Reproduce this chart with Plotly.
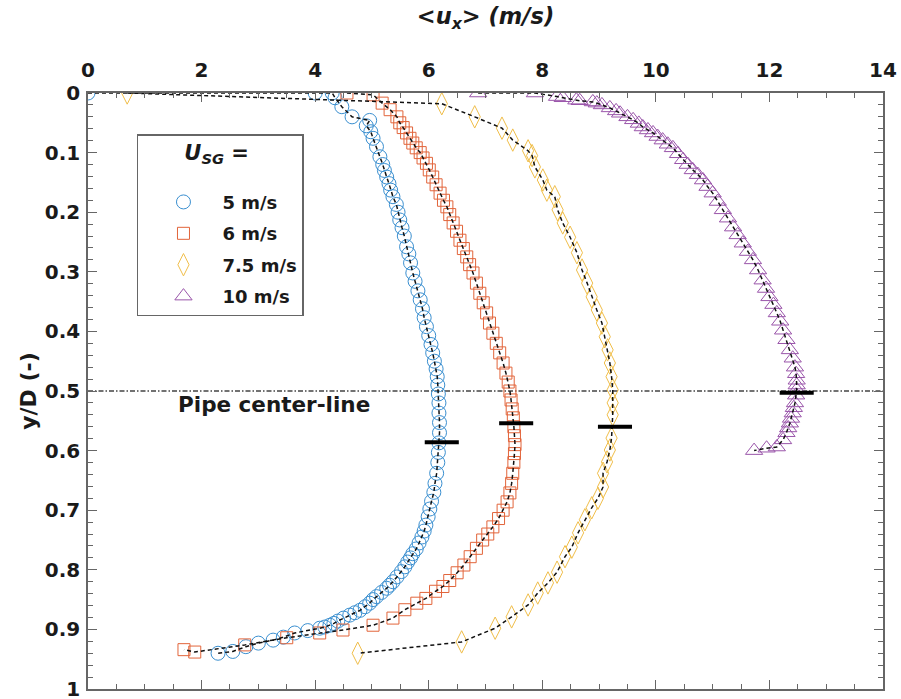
import plotly.graph_objects as go

# Time-averaged axial velocity profiles <u_x> across the pipe (y/D) for several U_SG
LABELS = ["5 m/s", "6 m/s", "7.5 m/s", "10 m/s"]

ux_5 = [0.0, 4.0, 4.3, 4.35, 4.47, 4.65, 4.96, 4.9, 4.98, 5.02, 5.08, 5.14, 5.19, 5.22, 5.26, 5.30,
        5.33, 5.37, 5.43, 5.46, 5.49, 5.53, 5.57, 5.61, 5.65, 5.68, 5.72, 5.76, 5.81, 5.85, 5.89,
        5.92, 5.96, 6.0, 6.04, 6.07, 6.1, 6.13, 6.15, 6.16, 6.17, 6.18, 6.18, 6.19, 6.19, 6.18,
        6.17, 6.16, 6.14, 6.11, 6.09, 6.05, 6.02, 5.99, 5.95, 5.92, 5.88, 5.83, 5.78, 5.72, 5.68,
        5.63, 5.58, 5.52, 5.44, 5.37, 5.31, 5.26, 5.17, 5.08, 5.02, 4.96, 4.88, 4.79, 4.7, 4.61,
        4.5, 4.4, 4.33, 4.26, 4.17, 4.08, 3.87, 3.64, 3.44, 3.26, 3.0, 2.78, 2.55, 2.29]
yD_5 = [0.0, 0.0, 0.0, 0.008, 0.023, 0.04, 0.046, 0.055, 0.065, 0.076, 0.09, 0.107, 0.12, 0.13,
        0.141, 0.152, 0.163, 0.174, 0.187, 0.2, 0.213, 0.226, 0.24, 0.258, 0.27, 0.285, 0.302,
        0.316, 0.332, 0.347, 0.362, 0.377, 0.392, 0.407, 0.422, 0.436, 0.45, 0.463, 0.476, 0.49,
        0.505, 0.52, 0.537, 0.553, 0.57, 0.587, 0.603, 0.62, 0.638, 0.655, 0.67, 0.685, 0.698,
        0.711, 0.725, 0.735, 0.745, 0.755, 0.765, 0.773, 0.78, 0.787, 0.795, 0.803, 0.812, 0.82,
        0.826, 0.831, 0.838, 0.845, 0.85, 0.856, 0.862, 0.868, 0.872, 0.876, 0.881, 0.886, 0.89,
        0.893, 0.896, 0.898, 0.902, 0.906, 0.913, 0.918, 0.923, 0.929, 0.937, 0.94]

ux_6 = [4.56, 5.02, 5.18, 5.32, 5.44, 5.49, 5.55, 5.61, 5.67, 5.72, 5.78, 5.85, 5.9, 5.96, 6.01,
        6.07, 6.13, 6.2, 6.26, 6.32, 6.37, 6.43, 6.49, 6.55, 6.61, 6.67, 6.72, 6.78, 6.84, 6.9,
        6.96, 7.02, 7.07, 7.13, 7.19, 7.25, 7.31, 7.36, 7.4, 7.43, 7.45, 7.47, 7.49, 7.5, 7.51,
        7.52, 7.51, 7.5, 7.48, 7.46, 7.43, 7.38, 7.31, 7.23, 7.13, 7.04, 6.95, 6.84, 6.73, 6.62,
        6.5, 6.37, 6.25, 6.12, 5.95, 5.79, 5.58, 5.37, 5.02, 4.49, 4.08, 3.5, 2.76, 1.88, 1.69]
yD_6 = [0.0, 0.003, 0.017, 0.028, 0.04, 0.05, 0.058, 0.067, 0.076, 0.084, 0.092, 0.1, 0.109,
        0.118, 0.129, 0.141, 0.154, 0.168, 0.18, 0.191, 0.204, 0.218, 0.232, 0.247, 0.261, 0.275,
        0.288, 0.302, 0.319, 0.336, 0.352, 0.369, 0.386, 0.403, 0.42, 0.436, 0.453, 0.47, 0.485,
        0.5, 0.515, 0.53, 0.545, 0.56, 0.575, 0.59, 0.605, 0.62, 0.638, 0.655, 0.671, 0.686, 0.7,
        0.714, 0.728, 0.74, 0.75, 0.764, 0.778, 0.792, 0.805, 0.818, 0.828, 0.836, 0.848, 0.856,
        0.867, 0.881, 0.893, 0.901, 0.906, 0.914, 0.926, 0.938, 0.934]

ux_75 = [0.69, 6.23, 6.81, 7.29, 7.48, 7.75, 7.82, 7.87, 8.01, 8.08, 8.22, 8.27, 8.36, 8.49, 8.61,
         8.7, 8.79, 8.87, 8.96, 9.05, 9.1, 9.15, 9.19, 9.22, 9.24, 9.24, 9.24, 9.22, 9.19, 9.14,
         9.07, 9.07, 8.98, 8.87, 8.75, 8.63, 8.52, 8.4, 8.26, 8.1, 7.92, 7.75, 7.46, 7.17, 6.58, 4.75]
yD_75 = [0.0, 0.018, 0.04, 0.059, 0.079, 0.097, 0.105, 0.124, 0.146, 0.163, 0.174, 0.196, 0.218,
         0.242, 0.268, 0.297, 0.319, 0.342, 0.364, 0.386, 0.409, 0.431, 0.453, 0.476, 0.498, 0.52,
         0.54, 0.579, 0.599, 0.619, 0.638, 0.661, 0.68, 0.696, 0.716, 0.738, 0.762, 0.778, 0.804,
         0.822, 0.839, 0.859, 0.879, 0.898, 0.921, 0.94]

ux_10 = [6.87, 7.87, 8.26, 8.36, 8.6, 8.66, 8.89, 8.96, 9.05, 9.19, 9.3, 9.37, 9.5, 9.6, 9.7, 9.77,
         9.86, 9.95, 10.03, 10.12, 10.21, 10.3, 10.39, 10.48, 10.56, 10.65, 10.74, 10.83, 10.91,
         11.0, 11.09, 11.18, 11.27, 11.36, 11.44, 11.53, 11.62, 11.71, 11.8, 11.88, 11.94, 12.0,
         12.07, 12.13, 12.19, 12.24, 12.3, 12.36, 12.41, 12.45, 12.47, 12.48, 12.48, 12.48, 12.47,
         12.45, 12.43, 12.41, 12.38, 12.36, 12.33, 12.3, 12.24, 12.13, 11.95, 11.73]
yD_10 = [0.0, 0.0, 0.006, 0.008, 0.012, 0.013, 0.015, 0.017, 0.02, 0.025, 0.03, 0.034, 0.04, 0.045,
         0.051, 0.057, 0.062, 0.067, 0.073, 0.079, 0.086, 0.092, 0.102, 0.112, 0.12, 0.129, 0.137,
         0.146, 0.157, 0.168, 0.182, 0.196, 0.21, 0.225, 0.238, 0.252, 0.266, 0.28, 0.297, 0.314,
         0.328, 0.342, 0.355, 0.369, 0.383, 0.398, 0.414, 0.431, 0.445, 0.46, 0.471, 0.482, 0.49,
         0.498, 0.507, 0.52, 0.528, 0.537, 0.546, 0.554, 0.562, 0.57, 0.582, 0.594, 0.596, 0.6]

# Location of the velocity maximum of each profile
peak_ux = [6.23, 7.54, 9.28, 12.48]
peak_yD = [0.586, 0.554, 0.56, 0.503]

CENTERLINE_Y = 0.5
X_TICKS = [0, 2, 4, 6, 8, 10, 12, 14]
Y_TICKS = [0, 0.1, 0.2, 0.3, 0.4, 0.5, 0.6, 0.7, 0.8, 0.9, 1]

COLORS = ["#3A8FD0", "#E2643A", "#F0BE4A", "#9A55AA"]
SYMBOLS = ["circle-open", "square-open", "diamond-tall-open", "triangle-up-open"]
SIZES = [14, 12, 16, 15]

FONT = "DejaVu Sans, sans-serif"
INK = "#1a1a1a"
series = [(ux_5, yD_5), (ux_6, yD_6), (ux_75, yD_75), (ux_10, yD_10)]

fig = go.Figure()

for i, (ux, yd) in enumerate(series):
    fig.add_trace(go.Scatter(
        x=ux, y=yd, mode="markers", name=LABELS[i], legendgroup=LABELS[i],
        marker=dict(symbol=SYMBOLS[i], size=SIZES[i], color=COLORS[i],
                    line=dict(width=1, color=COLORS[i])),
    ))

for i, (ux, yd) in enumerate(series):
    fig.add_trace(go.Scatter(
        x=ux, y=yd, mode="lines", showlegend=False, hoverinfo="skip",
        line=dict(color="#111111", width=1.5, dash="4px,3px"),
    ))

# short horizontal bars marking the velocity maxima
HALF = 0.3
bx, by = [], []
for px, py in zip(peak_ux, peak_yD):
    bx += [px - HALF, px + HALF, None]
    by += [py, py, None]
fig.add_trace(go.Scatter(x=bx, y=by, mode="lines", showlegend=False, hoverinfo="skip",
                         line=dict(color="black", width=4)))

fig.add_shape(type="line", xref="x", yref="y", x0=0, x1=14, y0=CENTERLINE_Y, y1=CENTERLINE_Y,
              line=dict(color="#444444", width=1.5, dash="5px,2px,1.5px,2px"), layer="below")

fig.add_annotation(x=3.27, y=0.523, xref="x", yref="y", text="<b>Pipe center-line</b>",
                   showarrow=False, font=dict(family=FONT, size=21.5, color=INK))

axis_common = dict(
    showgrid=False, zeroline=False, showline=True, linecolor="#666666", linewidth=1.5,
    mirror="ticks", ticks="inside", ticklen=9, tickwidth=1.3, tickcolor="#666666",
    tickfont=dict(family=FONT, size=20, color=INK, weight="bold"),
    ticklabeloverflow="allow",
)

fig.update_xaxes(
    range=[0, 14], side="top", tickvals=X_TICKS, ticklabelstandoff=6,
    minor=dict(ticks="inside", ticklen=5, dtick=0.5, tickcolor="#666666", tickwidth=1.2),
    title=dict(text="<b><i>&lt;u</i><sub><i>x</i></sub><i>&gt; (m/s)</i></b>", standoff=27,
               font=dict(family=FONT, size=22.5, color=INK)),
    automargin=False, **axis_common,
)
fig.update_yaxes(
    range=[1, 0], tickvals=Y_TICKS, ticklabelstandoff=2,
    minor=dict(ticks="inside", ticklen=5, dtick=0.02, tickcolor="#666666", tickwidth=1.2),
    title=dict(text="<b>y/D (-)</b>", standoff=2,
               font=dict(family=FONT, size=22, color=INK)),
    automargin=False, **axis_common,
)

LEGEND_TITLE = ("<span style='font-size:21px'>&nbsp;&nbsp;&nbsp;&nbsp;&nbsp;&nbsp;"
                "<b><i>U</i><sub><i>SG</i></sub> =</b></span><br>&nbsp;")

fig.update_layout(
    width=901, height=699,
    margin=dict(l=88, r=18, t=93, b=10),
    plot_bgcolor="white", paper_bgcolor="white",
    showlegend=True,
    legend=dict(
        x=0.0616, y=0.931, xanchor="left", yanchor="top",
        bgcolor="white", bordercolor="#666666", borderwidth=1.5,
        font=dict(family=FONT, size=18, color=INK, weight="bold"),
        title=dict(text=LEGEND_TITLE, font=dict(family=FONT, size=18.5, color=INK)),
        traceorder="grouped", tracegroupgap=5, indentation=6, itemwidth=68,
    ),
)

fig.write_html("out.html")
